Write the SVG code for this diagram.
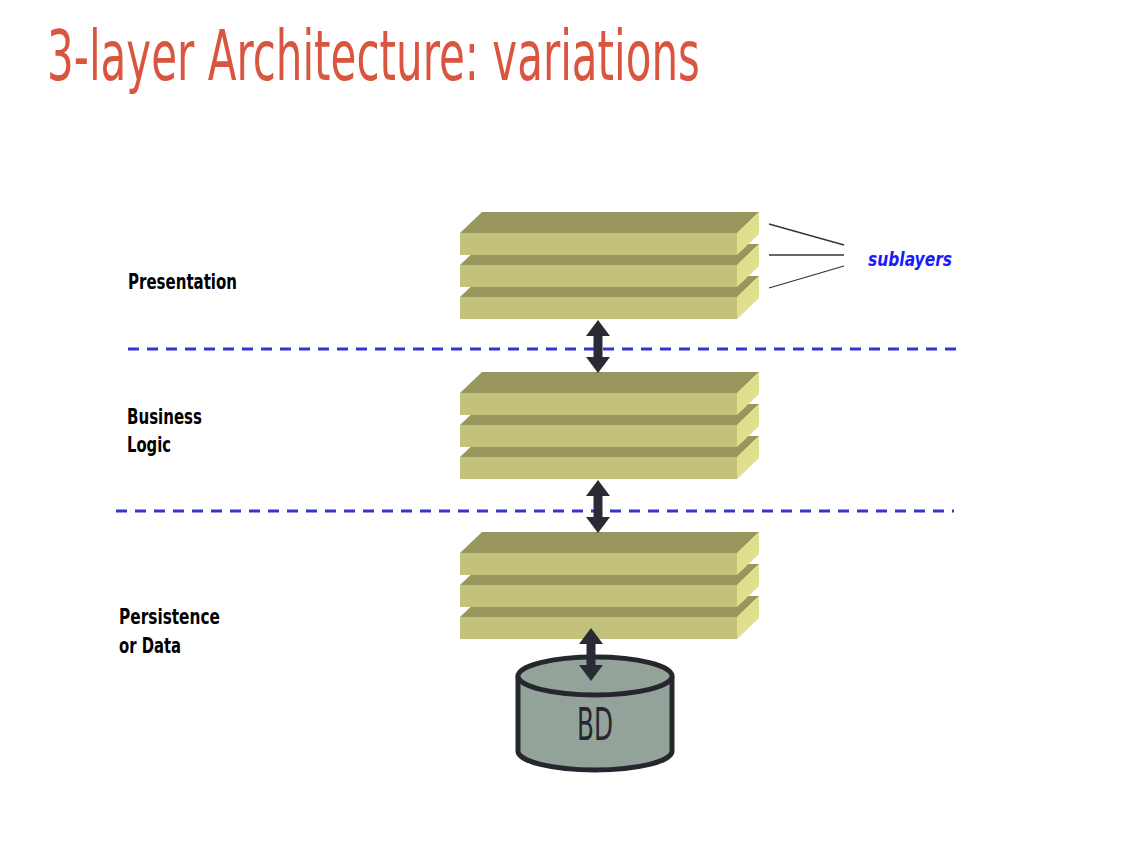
<svg xmlns="http://www.w3.org/2000/svg" width="1148" height="856" viewBox="0 0 1148 856">
<style>
.top{fill:#98955F}
.front{fill:#C2C27C}
.side{fill:#E0DF8C}
.lbl{font-family:"DejaVu Sans Condensed","DejaVu Sans",sans-serif;font-stretch:condensed;font-weight:bold;font-size:21px;fill:#000}
.dash{stroke:#3535CC;stroke-width:3;stroke-dasharray:11 8;fill:none}
.lead{stroke:#333;stroke-width:1.3;fill:none}
.arr{fill:#2A2A35}
</style>
<defs>
<g id="slab">
<polygon class="top" points="0,21 22,0 299,0 277,21"/>
<rect class="front" x="0" y="21" width="277" height="22"/>
<polygon class="side" points="277,21 299,0 299,22 277,43"/>
</g>
<g id="stack">
<use href="#slab" y="64"/>
<use href="#slab" y="32"/>
<use href="#slab" y="0"/>
</g>
<path id="darr" d="M0,0 L12,16 L4.5,16 L4.5,37 L12,37 L0,53 L-12,37 L-4.5,37 L-4.5,16 L-12,16 Z"/>
</defs>
<rect width="1148" height="856" fill="#fff"/>
<g id="title">
<text x="47" y="80" font-family="DejaVu Sans Condensed,DejaVu Sans,sans-serif" font-size="70" fill="#D9553F" textLength="653" lengthAdjust="spacingAndGlyphs">3-layer Architecture: variations</text>
</g>
<g id="separators">
<line class="dash" x1="128" y1="349" x2="964" y2="349"/>
<line class="dash" x1="116" y1="511" x2="954" y2="511"/>
</g>
<g id="presentation">
<use href="#stack" x="460" y="212"/>
<text class="lbl" x="128" y="289" textLength="109" lengthAdjust="spacingAndGlyphs">Presentation</text>
</g>
<g id="business">
<use href="#stack" x="460" y="372"/>
<text class="lbl" x="127" y="424" textLength="75" lengthAdjust="spacingAndGlyphs">Business</text>
<text class="lbl" x="127" y="452" textLength="44" lengthAdjust="spacingAndGlyphs">Logic</text>
</g>
<g id="persistence">
<use href="#stack" x="460" y="532"/>
<text class="lbl" x="119" y="624" textLength="101" lengthAdjust="spacingAndGlyphs">Persistence</text>
<text class="lbl" x="119" y="653" textLength="62" lengthAdjust="spacingAndGlyphs">or Data</text>
</g>
<g id="sublayers">
<text x="868" y="266" font-family="DejaVu Sans Condensed,DejaVu Sans,sans-serif" font-weight="bold" font-style="italic" font-size="20" fill="#1A1AFF" textLength="84" lengthAdjust="spacingAndGlyphs">sublayers</text>
</g>
<g id="bd">
<path d="M518,676 L518,751 A77,19 0 0 0 672,751 L672,676" fill="#93A39A" stroke="#26262E" stroke-width="5"/>
<ellipse cx="595" cy="676" rx="77" ry="19" fill="#93A39A" stroke="#26262E" stroke-width="5"/>
<text x="595" y="740" text-anchor="middle" font-family="DejaVu Sans Condensed,DejaVu Sans,sans-serif" font-size="44" fill="#26262E" textLength="36" lengthAdjust="spacingAndGlyphs">BD</text>
</g>
<g id="connectors">
<use href="#darr" class="arr" x="598" y="320"/>
<use href="#darr" class="arr" x="598" y="480"/>
<use href="#darr" class="arr" x="591" y="628"/>
<line class="lead" x1="769" y1="224" x2="844" y2="245"/>
<line class="lead" x1="769" y1="255" x2="844" y2="255"/>
<line class="lead" x1="769" y1="288" x2="844" y2="266"/>
</g>
</svg>
